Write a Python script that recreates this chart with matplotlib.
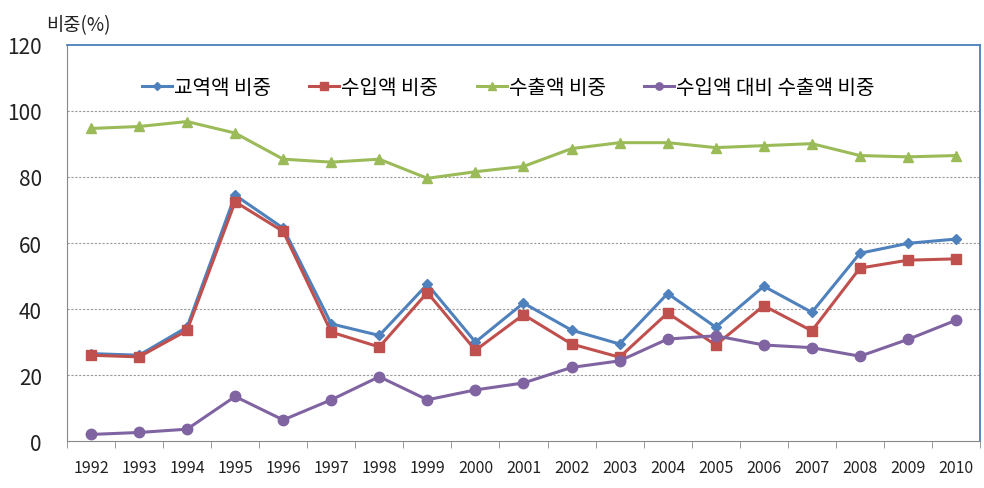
import numpy as np
import matplotlib
matplotlib.use("Agg")
import matplotlib.pyplot as plt

plt.rcParams['font.family'] = ['Noto Sans CJK KR', 'DejaVu Sans']

# ------------------------- data -----------------------------------
years = ['1992', '1993', '1994', '1995', '1996', '1997', '1998', '1999', '2000', '2001',
         '2002', '2003', '2004', '2005', '2006', '2007', '2008', '2009', '2010']
trade_share = [26.5, 26, 34.5, 74.5, 64.5, 35.5, 32, 47.5, 30, 41.8,
               33.6, 29.4, 44.7, 34.5, 46.9, 39, 56.9, 59.9, 61.2]
import_share = [26, 25.5, 33.5, 72.5, 63.5, 33, 28.5, 45, 27.5, 38.3,
                29.4, 25.4, 38.8, 29.1, 41, 33.4, 52.4, 54.8, 55.2]
export_share = [94.7, 95.3, 96.8, 93.3, 85.4, 84.5, 85.4, 79.6, 81.6, 83.2,
                88.6, 90.4, 90.4, 88.9, 89.5, 90.1, 86.5, 86.1, 86.5]
ratio_share = [2, 2.6, 3.6, 13.5, 6.4, 12.5, 19.5, 12.5, 15.5, 17.6,
               22.3, 24.3, 30.9, 31.9, 29.1, 28.3, 25.7, 30.8, 36.6]
labels = ['교역액 비중', '수입액 비중', '수출액 비중', '수입액 대비 수출액 비중']

# ------------------------- plot -----------------------------------
fig = plt.figure(figsize=(9.84, 4.89), dpi=100)
ax = fig.add_axes([0.068, 0.096, 0.928, 0.81])

x = np.arange(len(years))
ax.plot(x, trade_share, color='#4F81BD', lw=2.2, marker='D', ms=5.5, label=labels[0])
ax.plot(x, import_share, color='#C0504D', lw=2.2, marker='s', ms=7.5, label=labels[1])
ax.plot(x, export_share, color='#9BBB59', lw=2.2, marker='^', ms=7.5, label=labels[2])
ax.plot(x, ratio_share, color='#8064A2', lw=2.2, marker='o', ms=7.5, label=labels[3])

ax.set_xlim(-0.5, len(years) - 0.5)
ax.set_ylim(0, 120)
ax.set_yticks(range(0, 121, 20))
ax.tick_params(axis='y', length=0, labelsize=15, pad=18, colors='#222222')

# category labels at centers, tick marks between categories
ax.set_xticks(x)
ax.set_xticklabels(years, fontsize=11.5)
ax.tick_params(axis='x', which='major', length=0, pad=13, colors='#222222')
ax.set_xticks(np.arange(-0.5, len(years) - 0.4, 1), minor=True)
ax.tick_params(axis='x', which='minor', length=5, direction='out', color='#888888')

for yv in range(20, 101, 20):
    ax.axhline(yv, color='#999999', lw=0.8, ls=(0, (2, 1.5)), zorder=0)

ax.spines['left'].set_color('#888888')
ax.spines['bottom'].set_color('#888888')
ax.spines['top'].set_color('#4A7EBB')
ax.spines['right'].set_color('#4A7EBB')
ax.spines['top'].set_linewidth(1.3)
ax.spines['right'].set_linewidth(1.3)

fig.text(0.047, 0.947, '비중(%)', fontsize=13.5, va='center', ha='left', color='#222222')

ax.legend(loc='upper left', bbox_to_anchor=(0.062, 0.965), ncol=4, frameon=False,
          fontsize=14.5, handlelength=1.5, handletextpad=0.1, columnspacing=1.9,
          markerscale=0.7)

fig.savefig('out.png', dpi=100)
